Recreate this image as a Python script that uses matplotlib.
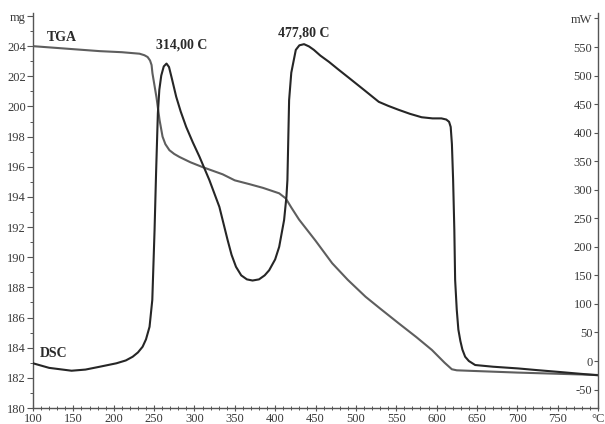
import matplotlib

matplotlib.use("Agg", force=True)
import matplotlib.pyplot as plt
from matplotlib.ticker import FixedLocator, MultipleLocator

plt.rcParams["font.family"] = ["Liberation Serif", "DejaVu Serif"]

# DSC trace (temperature in C, heat flow in mW)
DSC_TEMP = [
    100, 120, 147.8, 165, 182.7, 203.3, 215, 223.5, 230, 235.8, 240, 244.4,
    247.8, 250.6, 252.5, 254.7, 256.5, 258.9, 262, 265.4, 268.5, 272, 277.4,
    283, 289.8, 298, 306.2, 318.5, 330.9, 341.1, 346, 351.5, 358, 365, 372,
    380, 387, 392.6, 400, 405, 411.1, 414, 415.2, 417.3, 420, 425.6, 430,
    435.8, 442, 448, 456, 466.7, 478, 491.4, 510, 528.4, 540, 553, 567,
    581.5, 595, 606, 612, 615.5, 617.5, 619, 620.5, 622, 623, 625, 627,
    629.5, 632, 635.4, 640, 647.8, 670, 701, 725, 750.6, 775, 800,
]
DSC_MW = [
    -4, -12, -17, -15, -10, -4, 1, 7.5, 15, 25, 38, 60,
    107, 229, 330, 434, 475, 500, 516, 521, 515, 495, 463,
    437, 410, 383, 358, 317, 270, 212, 186, 165, 150, 143, 141,
    143, 150, 159, 178, 200, 247, 288, 317, 457, 505, 545, 553,
    555, 551, 545, 535, 524, 511, 496, 475, 454, 447, 440, 433,
    427, 425, 425, 423, 419, 410, 380, 317, 230, 142, 90, 55,
    35, 20, 7.5, 0, -7, -10, -13, -16, -19, -22, -25,
]

# TGA trace (temperature in C, mass in mg)
TGA_TEMP = [
    100, 125, 150, 182.7, 210, 232, 238, 242, 245, 246.9, 248, 250.5, 253,
    256.8, 260.5, 264, 269, 275, 281.5, 295, 310, 322, 335, 350, 368, 385,
    405, 413.2, 420, 429.6, 450, 470.7, 490, 512, 530, 553, 575, 594.2,
    610, 618.9, 625, 639.5, 700, 750, 800,
]
TGA_MG = [
    204.0, 203.9, 203.8, 203.67, 203.6, 203.5, 203.4, 203.28, 203.05, 202.75,
    202.2, 201.4, 200.6, 199.1, 198.0, 197.5, 197.1, 196.85, 196.65, 196.3,
    195.98, 195.75, 195.5, 195.1, 194.85, 194.6, 194.24, 193.9, 193.3, 192.5,
    191.1, 189.6, 188.5, 187.38, 186.6, 185.62, 184.7, 183.85, 183.0, 182.57,
    182.5, 182.47, 182.35, 182.27, 182.19,
]

X_TICKS = list(range(100, 801, 50))
X_LABELS = [str(t) for t in X_TICKS[:-1]] + ["°C"]
MG_TICKS = list(range(180, 207, 2))
MG_LABELS = [str(t) for t in MG_TICKS[:-1]] + ["mg"]
MW_TICKS = list(range(-50, 601, 50))
MW_LABELS = [str(t) for t in MW_TICKS[:-1]] + ["mW"]

AXIS_COLOR = "#555555"
LABEL_COLOR = "#3a3a3a"

fig = plt.figure(figsize=(6.05, 4.24), dpi=100)
ax = fig.add_axes([33 / 605, 16 / 424, (598 - 33) / 605, 395 / 424])
ax2 = ax.twinx()

ax.set_xlim(100, 800)
ax.set_ylim(180, 206.2)
ax2.set_ylim(-82.3, 609.6)

ax2.plot(DSC_TEMP, DSC_MW, color="#262626", lw=1.5, solid_joinstyle="round")
ax.plot(TGA_TEMP, TGA_MG, color="#5e5e5e", lw=1.5, solid_joinstyle="round")

for spine in ("top", "right"):
    ax.spines[spine].set_visible(False)
for spine in ("top", "left", "bottom"):
    ax2.spines[spine].set_visible(False)
for a in (ax, ax2):
    for spine in a.spines.values():
        spine.set_color(AXIS_COLOR)
        spine.set_linewidth(1.0)

ax.xaxis.set_major_locator(FixedLocator(X_TICKS))
ax.set_xticklabels(X_LABELS)
ax.xaxis.set_minor_locator(MultipleLocator(10))
ax.yaxis.set_major_locator(FixedLocator(MG_TICKS))
ax.set_yticklabels(MG_LABELS)
ax.yaxis.set_minor_locator(MultipleLocator(1))
ax2.yaxis.set_major_locator(FixedLocator(MW_TICKS))
ax2.set_yticklabels(MW_LABELS)

ax.tick_params(axis="x", which="major", direction="inout", length=5, width=0.8,
               color=AXIS_COLOR, labelsize=9, labelcolor=LABEL_COLOR, pad=1)
ax.tick_params(axis="x", which="minor", direction="inout", length=3, width=0.7,
               color=AXIS_COLOR)
ax.tick_params(axis="y", which="major", direction="out", length=4, width=0.8,
               color=AXIS_COLOR, labelsize=9, labelcolor=LABEL_COLOR, pad=1)
ax.tick_params(axis="y", which="minor", direction="out", length=2.5, width=0.7,
               color=AXIS_COLOR)
ax2.tick_params(axis="y", direction="in", length=3, width=0.8, color=AXIS_COLOR,
                labelsize=9, labelcolor=LABEL_COLOR, pad=-4)
for label in ax2.get_yticklabels():
    label.set_horizontalalignment("right")

text_kw = dict(fontsize=10, fontweight="bold", color="#2a2a2a", ha="center", va="center")
ax.text(135.8, 204.6, "TGA", **text_kw)
ax.text(126, 183.6, "DSC", **text_kw)
ax.text(284, 204.1, "314,00 C", **text_kw)
ax.text(435.8, 204.9, "477,80 C", **text_kw)

fig.savefig("out.png", dpi=100)
plt.close(fig)
